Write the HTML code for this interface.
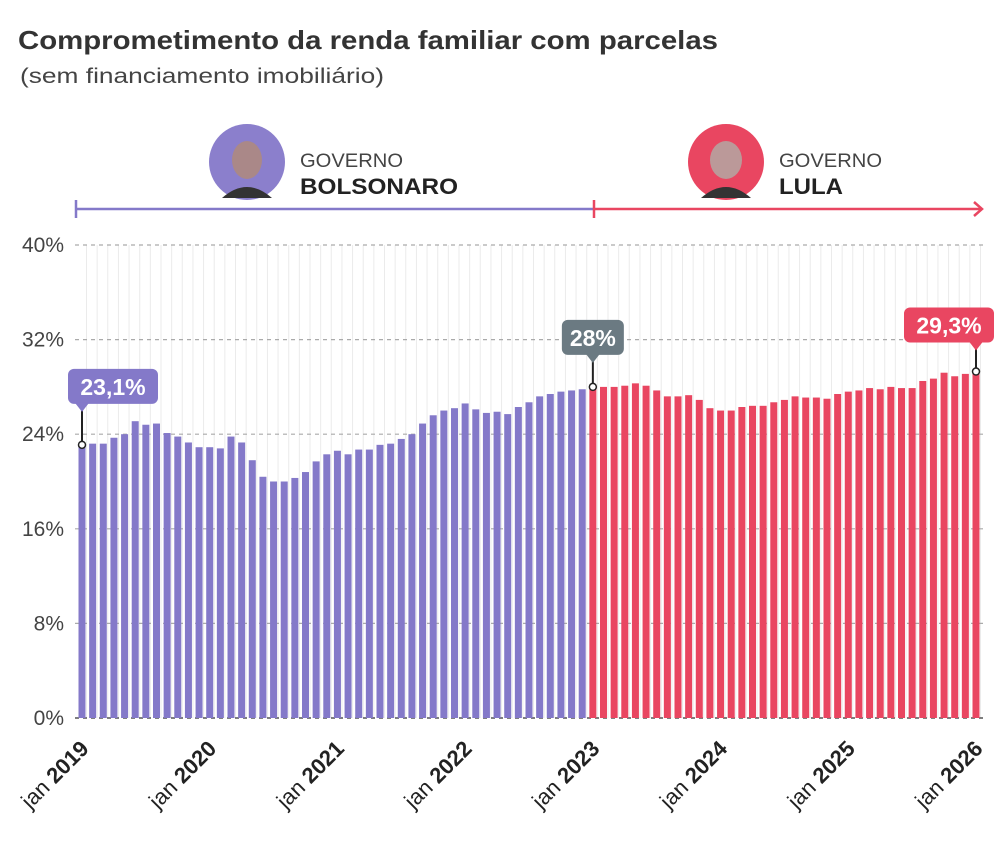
<!DOCTYPE html>
<html><head><meta charset="utf-8"><style>
body{margin:0;background:#fff;width:1000px;height:842px;overflow:hidden;font-family:"Liberation Sans",sans-serif}
</style></head><body>
<svg id="chart" width="1000" height="842" xmlns="http://www.w3.org/2000/svg" font-family="Liberation Sans, sans-serif">
<text x="18" y="49" font-size="26" font-weight="bold" fill="#333" textLength="700" lengthAdjust="spacingAndGlyphs">Comprometimento da renda familiar com parcelas</text>
<text x="20" y="83" font-size="21" fill="#444" textLength="364" lengthAdjust="spacingAndGlyphs">(sem financiamento imobiliário)</text>
<circle cx="247" cy="162" r="38" fill="#8b7fcc"/>
<path d="M222,198 Q247,176 272,198 Z" fill="#333"/>
<ellipse cx="247" cy="160" rx="15" ry="19" fill="#a88"/>
<text x="300" y="167" font-size="19" fill="#444" textLength="103" lengthAdjust="spacingAndGlyphs">GOVERNO</text>
<text x="300" y="194" font-size="22" font-weight="bold" fill="#222" textLength="158" lengthAdjust="spacingAndGlyphs">BOLSONARO</text>
<circle cx="726" cy="162" r="38" fill="#e94661"/>
<path d="M701,198 Q726,176 751,198 Z" fill="#333"/>
<ellipse cx="726" cy="160" rx="16" ry="19" fill="#b99"/>
<text x="779" y="167" font-size="19" fill="#444" textLength="103" lengthAdjust="spacingAndGlyphs">GOVERNO</text>
<text x="779" y="194" font-size="22" font-weight="bold" fill="#222" textLength="64" lengthAdjust="spacingAndGlyphs">LULA</text>
<line x1="76" y1="209" x2="594" y2="209" stroke="#8479c9" stroke-width="2.5"/>
<line x1="76" y1="200" x2="76" y2="218" stroke="#8479c9" stroke-width="2.5"/>
<line x1="594" y1="209" x2="982" y2="209" stroke="#e94661" stroke-width="2.5"/>
<line x1="594" y1="200" x2="594" y2="218" stroke="#e94661" stroke-width="2.5"/>
<polyline points="974,202 982,209 974,216" fill="none" stroke="#e94661" stroke-width="2.5"/>
<g id="grid"></g><g id="bars"></g><g id="labels"></g>
</svg>
<script>
const months = 85;
const values = [23.1,23.2,23.2,23.7,24.0,25.1,24.8,24.9,24.1,23.8,23.3,22.9,
22.9,22.8,23.8,23.3,21.8,20.4,20.0,20.0,20.3,20.8,21.7,22.3,
22.6,22.3,22.7,22.7,23.1,23.2,23.6,24.0,24.9,25.6,26.0,26.2,
26.6,26.1,25.8,25.9,25.7,26.3,26.7,27.2,27.4,27.6,27.7,27.8,
28.0,28.0,28.0,28.1,28.3,28.1,27.7,27.2,27.2,27.3,26.9,26.2,
26.0,26.0,26.3,26.4,26.4,26.7,26.9,27.2,27.1,27.1,27.0,27.4,
27.6,27.7,27.9,27.8,28.0,27.9,27.9,28.5,28.7,29.2,28.9,29.1,
29.3];
const yTicks = [0,8,16,24,32,40];
const yearLabels = ["2019","2020","2021","2022","2023","2024","2025","2026"];
const callouts = [{i:0,text:"23,1%",gap:41},{i:48,text:"28%",gap:32},{i:84,text:"29,3%",gap:29}];
const splitIndex = 48;

const NS="http://www.w3.org/2000/svg";
const y = v => 718 - v*(718-245)/40;
const x = i => 82 + i*(976-82)/(months-1);
function mk(tag, attrs, parent){const e=document.createElementNS(NS,tag);for(const k in attrs)e.setAttribute(k,attrs[k]);parent.appendChild(e);return e;}
const grid=document.getElementById('grid'), bars=document.getElementById('bars'), labels=document.getElementById('labels');
for(let i=0;i<months;i++){
  const l=mk('line',{x1:x(i)+4.5,x2:x(i)+4.5,y1:245,y2:718,stroke:'#ebebeb','stroke-width':1},grid);
  
  
}
yTicks.forEach(t=>{
  const l=mk('line',{x1:75,x2:985,y1:y(t),y2:y(t),stroke:t===0?'#555':'#aaa','stroke-width':t===0?1.5:1.2,'stroke-dasharray':'4,4'},grid);
  
  
  const tx=mk('text',{x:64,y:y(t)+7,'text-anchor':'end','font-size':21,fill:'#444'},grid);
  tx.textContent=t+'%';
  
  
});
values.forEach((v,i)=>{
  const r=mk('rect',{x:x(i)-3.5,y:y(v),width:7,height:718-y(v),fill:i<splitIndex?'#8479c9':'#e94661'},bars);
  
  
});
yearLabels.forEach((yr,k)=>{
  const xi=x(k*12)+8, yi=750;
  const t=mk('text',{x:xi,y:yi,'text-anchor':'end','font-size':22,fill:'#222',transform:`rotate(-45 ${xi} ${yi})`},labels);
  
  
  const a=mk('tspan',{},t);a.textContent='jan ';
  const b=mk('tspan',{'font-weight':'bold'},t);b.textContent=yr;
});
callouts.forEach(c=>{
  const px=x(c.i), py=y(values[c.i]);
  const col=c.i===0?'#8479c9':(c.i===splitIndex?'#6b7a82':'#e94661');
  const w=c.text.length*14+20, h=35;
  let bx=px-w/2; if(c.i===0) bx=px-14; if(bx+w>994) bx=994-w;
  const by=py-c.gap-h;
  const g=mk('g',{},labels);
  
  
  mk('line',{x1:px,x2:px,y1:by+h,y2:py,stroke:'#222','stroke-width':2},g);
  mk('rect',{x:bx,y:by,width:w,height:h,rx:6,fill:col},g);
  mk('polygon',{points:`${px-7},${by+h-1} ${px+7},${by+h-1} ${px},${by+h+8}`,fill:col},g);
  mk('circle',{cx:px,cy:py,r:3.5,fill:'#fff',stroke:'#222','stroke-width':1.5},g);
  const t=mk('text',{x:bx+w/2,y:by+26,'text-anchor':'middle','font-size':23,'font-weight':'bold',fill:'#fff'},g);
  t.textContent=c.text;
});
</script>
</body></html>
